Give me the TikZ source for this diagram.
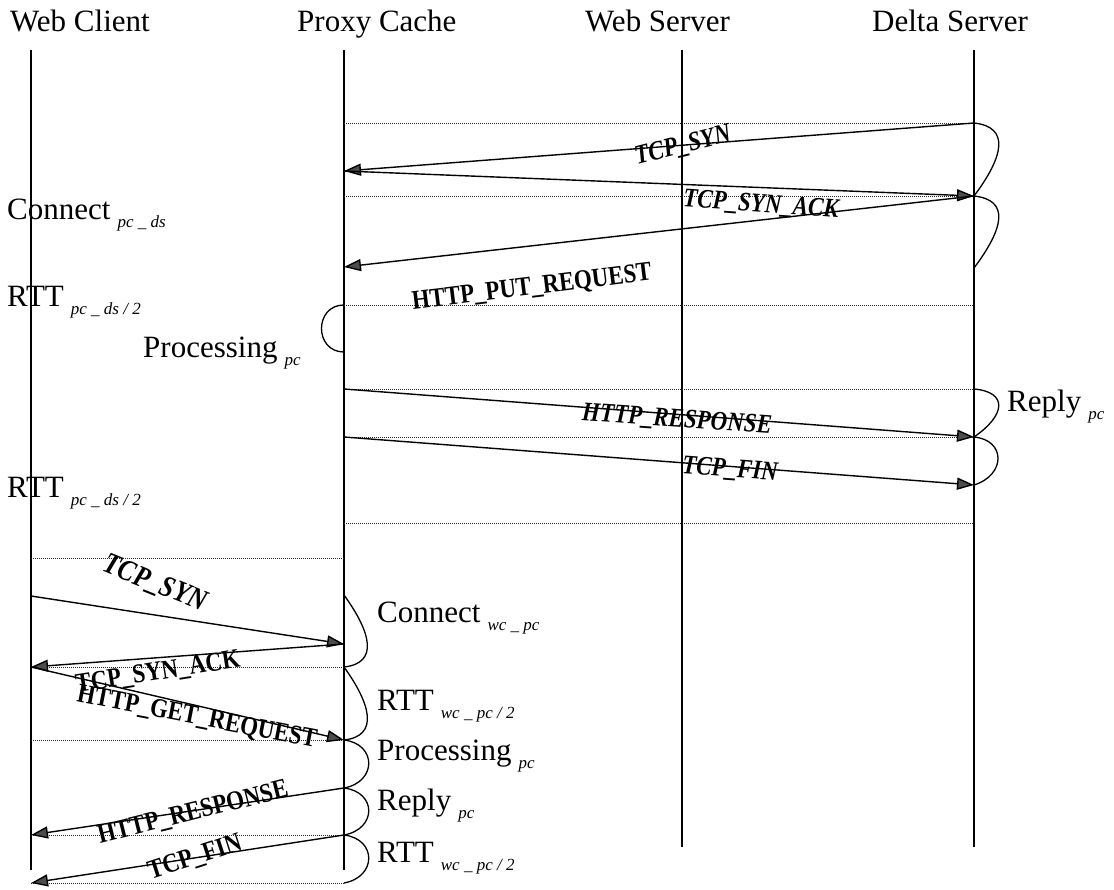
\documentclass[tikz,border=0pt]{standalone}
\usepackage{fontspec}
\setmainfont{Liberation Serif}
\newfontfamily\msgfont[FakeStretch=0.85]{Liberation Serif}
\usetikzlibrary{arrows.meta}
% delay label: main word followed by a lowered italic index
\newcommand{\dly}[2]{#1\hspace{7pt}\raisebox{-8pt}{\fontsize{17}{17}\selectfont\itshape #2}}
\begin{document}
\begin{tikzpicture}[x=1pt,y=-1pt,
  lifeline/.style={line width=1.3pt},
  msg/.style={line width=1.4pt,-{Triangle[length=17pt,width=12pt,fill=black!70]}},
  sep/.style={line width=0.9pt,dash pattern=on 1pt off 1pt,black!85},
  bump/.style={line width=1.3pt},
  hdr/.style={anchor=base west,inner sep=0,font=\fontsize{31}{31}\selectfont},
  delay/.style={anchor=base west,inner sep=0,font=\fontsize{31}{31}\selectfont},
  mit/.style={inner sep=0,font=\msgfont\fontsize{27}{27}\selectfont\bfseries\itshape},
  mup/.style={inner sep=0,font=\msgfont\fontsize{27}{27}\selectfont\bfseries}]
\useasboundingbox (0,0) rectangle (1114,890);

% participants
\node[hdr] (hwc) at (10,32) {Web Client};
\node[hdr] (hpc) at (297,32) {Proxy Cache};
\node[hdr] (hws) at (585,32) {Web Server};
\node[hdr] (hds) at (872,32) {Delta Server};

% lifeline ends
\coordinate (wcT) at (31,50);  \coordinate (wcB) at (31,870);
\coordinate (pcT) at (344,50); \coordinate (pcB) at (344,870);
\coordinate (wsT) at (682,50); \coordinate (wsB) at (682,847);
\coordinate (dsT) at (974,50); \coordinate (dsB) at (974,847);
\draw[lifeline] (wcT) -- (wcB);
\draw[lifeline] (pcT) -- (pcB);
\draw[lifeline] (wsT) -- (wsB);
\draw[lifeline] (dsT) -- (dsB);

% ---- proxy cache <-> delta server ----
\coordinate (p0) at (344,123); \coordinate (d0) at (974,123);
\coordinate (p1) at (344,171);
\coordinate (p1b) at (344,196); \coordinate (d1) at (974,196);
\coordinate (p2) at (344,267); \coordinate (d2) at (974,268);
\coordinate (p3) at (344,305); \coordinate (d3) at (974,305);
\coordinate (p3b) at (344,352);
\coordinate (p4) at (344,389); \coordinate (d4) at (974,389);
\coordinate (p5) at (344,437); \coordinate (d5) at (974,437);
\coordinate (d6) at (974,485);
\coordinate (p7) at (344,523); \coordinate (d7) at (974,523);

\draw[sep] (p0) -- (d0);
\draw[sep] (p1b) -- (d1);
\draw[sep] (p3) -- (d3);
\draw[sep] (p4) -- (d4);
\draw[sep] (p5) -- (d5);
\draw[sep] (p7) -- (d7);

\draw[msg] (d0) -- (p1);
\draw[msg] (p1) -- (d1);
\draw[msg] (d1) -- (p2);
\draw[msg] (p4) -- (d5);
\draw[msg] (p5) -- (d6);

\draw[bump] (d0) .. controls +(36,4) and +(30,-40) .. (d1);
\draw[bump] (d1) .. controls +(36,4) and +(30,-40) .. (d2);
\draw[bump] (p3) .. controls +(-30,0) and +(-30,0) .. (p3b);
\draw[bump] (d4) .. controls +(34,3) and +(32,-22) .. (d5);
\draw[bump] (d5) .. controls +(32,3) and +(32,-10) .. (d6);

\node[mit,rotate=14] (l1) at (683,146) {TCP\_SYN};
\node[mit,rotate=-4] (l2) at (761,205) {TCP\_SYN\_ACK};
\node[mup,rotate=7] (l3) at (532,288) {HTTP\_PUT\_REQUEST};
\node[mit,rotate=-4] (l4) at (677,420) {HTTP\_RESPONSE};
\node[mit,rotate=-4] (l5) at (730,470) {TCP\_FIN};

\node[delay] (t1) at (7,220) {\dly{Connect}{pc \_ ds}};
\node[delay] (t2) at (7,307) {\dly{RTT}{pc \_ ds / 2}};
\node[delay] (t3) at (143,358) {\dly{Processing}{pc}};
\node[delay] (t4) at (7,497) {\dly{RTT}{pc \_ ds / 2}};
\node[delay] (t5) at (1007,412) {\dly{Reply}{pc}};

% ---- web client <-> proxy cache ----
\coordinate (w0) at (31,558);  \coordinate (q0) at (344,558);
\coordinate (w1) at (31,596);  \coordinate (q1) at (344,595);
\coordinate (q1a) at (344,644);
\coordinate (w2) at (31,667);  \coordinate (q2) at (344,667);
\coordinate (w3) at (31,740);  \coordinate (q3) at (344,740);
\coordinate (q4) at (344,788);
\coordinate (w5) at (31,835);  \coordinate (q5) at (344,835);
\coordinate (w6) at (31,883);  \coordinate (q6) at (344,883);

\draw[sep] (w0) -- (q0);
\draw[sep] (w2) -- (q2);
\draw[sep] (w3) -- (q3);
\draw[sep] (w5) -- (q5);
\draw[sep] (w6) -- (q6);

\draw[msg] (w1) -- (q1a);
\draw[msg] (q1a) -- (w2);
\draw[msg] (w2) -- (q3);
\draw[msg] (q4) -- (w5);
\draw[msg] (q5) -- (w6);

\draw[bump] (q1) .. controls +(26,36) and +(36,-4) .. (q2);
\draw[bump] (q2) .. controls +(26,36) and +(36,-4) .. (q3);
\draw[bump] (q3) .. controls +(33,4) and +(33,-6) .. (q4);
\draw[bump] (q4) .. controls +(33,4) and +(33,-6) .. (q5);
\draw[bump] (q5) .. controls +(33,4) and +(33,-6) .. (q6);

\node[mit,rotate=-22,font=\msgfont\fontsize{30}{30}\selectfont\bfseries\itshape] (m1) at (155,584) {TCP\_SYN};
\node[mup,rotate=9] (m2) at (158,673) {TCP\_SYN\_ACK};
\node[mup,rotate=-11] (m3) at (197,718) {HTTP\_GET\_REQUEST};
\node[mup,rotate=14] (m4) at (193,813) {HTTP\_RESPONSE};
\node[mup,rotate=18] (m5) at (195,858) {TCP\_FIN};

\node[delay] (u1) at (377,622) {\dly{Connect}{wc \_ pc}};
\node[delay] (u2) at (377,710) {\dly{RTT}{wc \_ pc / 2}};
\node[delay] (u3) at (377,760) {\dly{Processing}{pc}};
\node[delay] (u4) at (377,810) {\dly{Reply}{pc}};
\node[delay] (u5) at (377,862) {\dly{RTT}{wc \_ pc / 2}};
\end{tikzpicture}
\end{document}
